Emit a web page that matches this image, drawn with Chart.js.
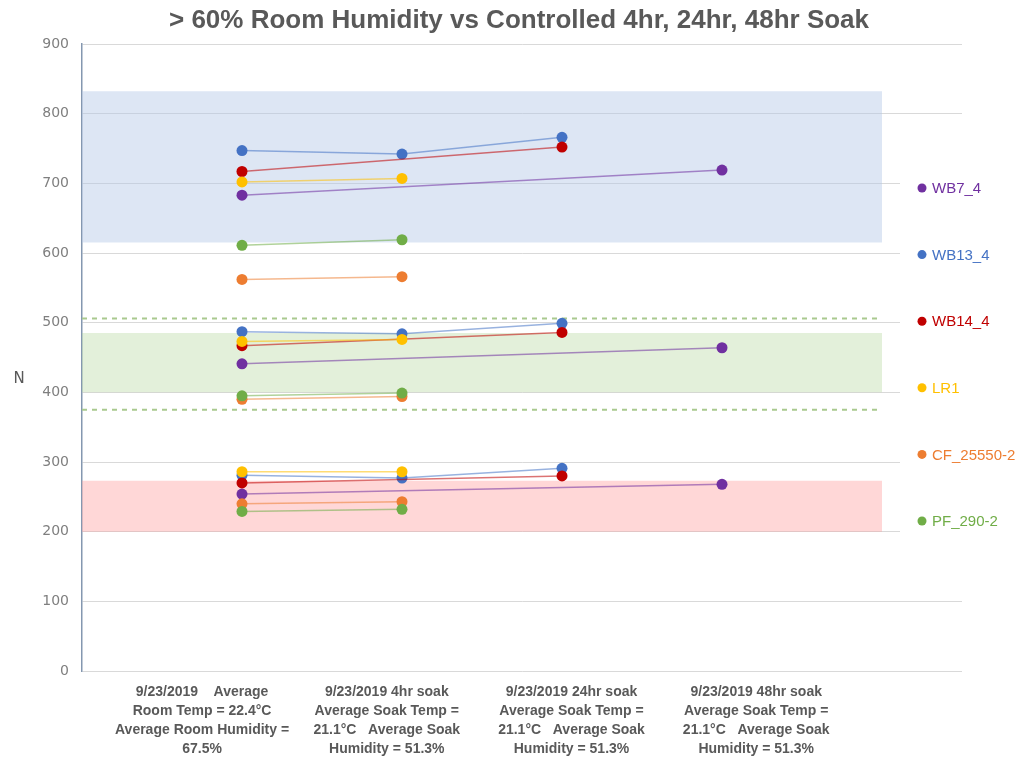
<!DOCTYPE html>
<html lang="en">
<head>
    <meta charset="UTF-8">
    <title>Room Humidity vs Controlled Soak</title>
    <script src="https://cdn.jsdelivr.net/npm/chart.js@4"></script>
    <style>
        body { margin: 0; background: #fff; }
        #chart { display: block; }
    </style>
</head>
<body>
    <canvas id="chart" width="1024" height="763"></canvas>
    <script>
        const chartTitle = '> 60% Room Humidity vs Controlled 4hr, 24hr, 48hr Soak';

        // x positions of the four soak conditions
        const xCats = [1, 2, 3, 4];
        const xLabels = [
            ['9/23/2019    Average', 'Room Temp = 22.4°C', 'Average Room Humidity =', '67.5%'],
            ['9/23/2019 4hr soak', 'Average Soak Temp =', '21.1°C   Average Soak', 'Humidity = 51.3%'],
            ['9/23/2019 24hr soak', 'Average Soak Temp =', '21.1°C   Average Soak', 'Humidity = 51.3%'],
            ['9/23/2019 48hr soak', 'Average Soak Temp =', '21.1°C   Average Soak', 'Humidity = 51.3%']
        ];

        // each series: [high group, middle group, low group], one value per condition
        const WB7_4 = [[683, null, null, 719], [441, null, null, 464], [254, null, null, 268]];
        const WB13_4 = [[747, 742, 766, null], [487, 484, 499, null], [281, 277, 291, null]];
        const WB14_4 = [[717, null, 752, null], [467, null, 486, null], [270, null, 280, null]];
        const LR1 = [[702, 707, null, null], [473, 476, null, null], [286, 286, null, null]];
        const CF_25550 = [[562, 566, null, null], [390, 394, null, null], [240, 243, null, null]];
        const PF_290 = [[611, 619, null, null], [395, 399, null, null], [229, 232, null, null]];

        const seriesNames = ['WB7_4', 'WB13_4', 'WB14_4', 'LR1', 'CF_25550-2', 'PF_290-2'];
        const seriesValues = [WB7_4, WB13_4, WB14_4, LR1, CF_25550, PF_290];
        const seriesColors = ['#7030a0', '#4472c4', '#c00000', '#ffc000', '#ed7d31', '#70ad47'];

        // shaded target ranges [low, high] and dashed limits
        const bandHigh = [615, 832];
        const bandMid = [400, 485];
        const bandLow = [200, 273];
        const midLimits = [506, 375];
        const bandEnd = 5;

        const yTicks = [0, 100, 200, 300, 400, 500, 600, 700, 800, 900];

        function rgba(hex, a) {
            const n = parseInt(hex.slice(1), 16);
            return `rgba(${n >> 16},${(n >> 8) & 255},${n & 255},${a})`;
        }

        const datasets = [];

        function addBand(range, color) {
            datasets.push({
                data: [{x: 0, y: range[1]}, {x: bandEnd, y: range[1]}],
                fill: {value: range[0]},
                backgroundColor: color,
                borderWidth: 0,
                pointRadius: 0,
                order: 20
            });
        }
        addBand(bandHigh, 'rgba(180,199,231,0.45)');
        addBand(bandMid, 'rgba(169,208,142,0.33)');
        addBand(bandLow, 'rgba(255,150,150,0.38)');

        midLimits.forEach(v => {
            datasets.push({
                data: [{x: 0, y: v}, {x: bandEnd, y: v}],
                borderColor: '#a9c98f',
                borderWidth: 2,
                borderDash: [5, 5],
                pointRadius: 0,
                fill: false,
                order: 19
            });
        });

        seriesValues.forEach((groups, s) => {
            groups.forEach(vals => {
                datasets.push({
                    label: seriesNames[s],
                    data: xCats.map((x, i) => ({x: x, y: vals[i]})),
                    spanGaps: true,
                    borderColor: rgba(seriesColors[s], 0.55),
                    borderWidth: 1.5,
                    backgroundColor: seriesColors[s],
                    pointBackgroundColor: seriesColors[s],
                    pointBorderWidth: 0,
                    pointRadius: 5.5,
                    fill: false,
                    order: 10 - s
                });
            });
        });

        const extras = {
            id: 'extras',
            afterDraw(chart) {
                const ctx = chart.ctx;
                ctx.save();
                // title
                ctx.fillStyle = '#595959';
                ctx.font = 'bold 26px "Liberation Sans", sans-serif';
                ctx.textAlign = 'center';
                ctx.textBaseline = 'alphabetic';
                ctx.fillText(chartTitle, 519, 28);
                // legend box
                ctx.fillStyle = '#fff';
                ctx.fillRect(900, 140, 124, 425);
                ctx.font = '15px "Liberation Sans", sans-serif';
                ctx.textAlign = 'left';
                ctx.textBaseline = 'middle';
                seriesNames.forEach((name, i) => {
                    const y = 188 + i * 66.6;
                    ctx.fillStyle = seriesColors[i];
                    ctx.beginPath();
                    ctx.arc(922, y, 4.5, 0, Math.PI * 2);
                    ctx.fill();
                    ctx.fillText(name, 932, y + 1);
                });
                // y axis title
                ctx.fillStyle = '#595959';
                ctx.font = '15px "DejaVu Sans", sans-serif';
                ctx.textAlign = 'center';
                ctx.fillText('N', 19, 379);
                ctx.restore();
            }
        };

        new Chart(document.getElementById('chart'), {
            type: 'line',
            data: {datasets: datasets},
            plugins: [extras],
            options: {
                responsive: false,
                devicePixelRatio: 1,
                animation: false,
                layout: {padding: {top: 44, right: 62, bottom: 0, left: 0}},
                plugins: {
                    legend: {display: false},
                    tooltip: {enabled: false},
                    title: {display: false}
                },
                scales: {
                    x: {
                        type: 'linear',
                        min: 0,
                        max: 5.5,
                        display: false
                    },
                    x2: {
                        type: 'linear',
                        position: 'bottom',
                        min: 0.35,
                        max: 5.114,
                        grid: {display: false, drawTicks: false},
                        border: {display: false},
                        afterBuildTicks: scale => { scale.ticks = xCats.map(v => ({value: v})); },
                        afterFit: scale => { scale.height = 92; },
                        ticks: {
                            autoSkip: false,
                            maxRotation: 0,
                            padding: 12,
                            color: '#595959',
                            font: {family: '"Liberation Sans Narrow", sans-serif', size: 14, weight: 'bold', lineHeight: 1.36},
                            callback: (v) => xLabels[xCats.indexOf(v)] || ''
                        }
                    },
                    y: {
                        min: 0,
                        max: 900,
                        afterBuildTicks: scale => { scale.ticks = yTicks.map(v => ({value: v})); },
                        afterFit: scale => { scale.width = 82; },
                        grid: {color: '#d9d9d9', lineWidth: 1, drawTicks: false},
                        border: {display: true, color: '#8497b0', width: 1.5},
                        ticks: {
                            padding: 13,
                            color: '#7f7f7f',
                            font: {family: '"DejaVu Sans", sans-serif', size: 14}
                        }
                    }
                }
            }
        });
    </script>
</body>
</html>
